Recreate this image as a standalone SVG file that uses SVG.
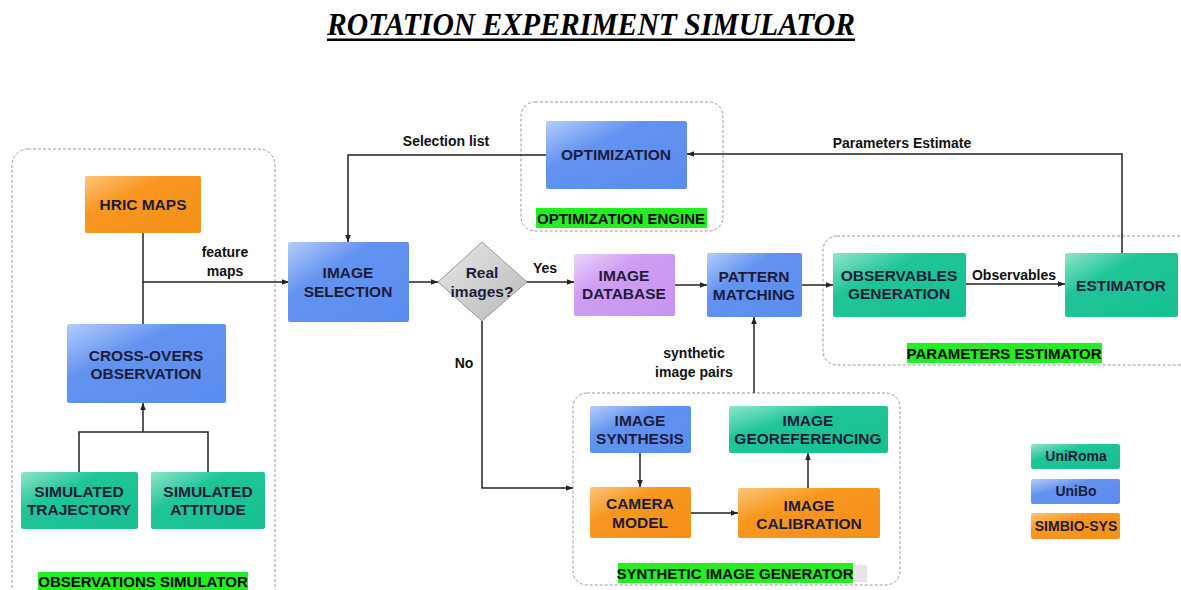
<svg xmlns="http://www.w3.org/2000/svg" width="1181" height="590" viewBox="0 0 1181 590">
<defs>
<linearGradient id="gOrange" x1="0" y1="0" x2="1" y2="1"><stop offset="0" stop-color="#fcc57a"/><stop offset="0.35" stop-color="#f8971f"/><stop offset="1" stop-color="#f58f18"/></linearGradient>
<linearGradient id="gBlue" x1="0" y1="0" x2="1" y2="1"><stop offset="0" stop-color="#b4cdfb"/><stop offset="0.35" stop-color="#6393f0"/><stop offset="1" stop-color="#5a8cf0"/></linearGradient>
<linearGradient id="gTeal" x1="0" y1="0" x2="1" y2="1"><stop offset="0" stop-color="#8fe6cb"/><stop offset="0.35" stop-color="#1fc597"/><stop offset="1" stop-color="#17bf8f"/></linearGradient>
<linearGradient id="gPurple" x1="0" y1="0" x2="1" y2="1"><stop offset="0" stop-color="#ecd5fb"/><stop offset="0.35" stop-color="#cf9ef2"/><stop offset="1" stop-color="#c893ef"/></linearGradient>
<linearGradient id="gGrey" x1="0" y1="0" x2="1" y2="1"><stop offset="0" stop-color="#e8e8e8"/><stop offset="1" stop-color="#b8b8b8"/></linearGradient>
<marker id="arr" viewBox="0 0 10 10" refX="10" refY="5" markerWidth="7" markerHeight="7" orient="auto" markerUnits="userSpaceOnUse"><path d="M0,1 L10,5 L0,9 z" fill="#222"/></marker>
</defs>
<style>
.grp{fill:none;stroke:#999;stroke-width:1;stroke-dasharray:3,2}
.hl{fill:#22ee22}
.node{stroke:none}
.t{font-family:"Liberation Sans",Arial,sans-serif;font-weight:bold;font-size:15.5px;fill:#1c1c3a;text-anchor:middle}
.lbl{font-family:"Liberation Sans",Arial,sans-serif;font-weight:bold;font-size:14px;fill:#111;text-anchor:middle}
.gl{font-family:"Liberation Sans",Arial,sans-serif;font-weight:bold;font-size:15px;fill:#0a0a0a;text-anchor:middle}
.leg{font-family:"Liberation Sans",Arial,sans-serif;font-weight:bold;font-size:14px;fill:#1c1c3a;text-anchor:middle}
.c{fill:none;stroke:#222;stroke-width:1.5}
</style>
<rect width="1181" height="590" fill="#ffffff"/>

<g id="title">
<text x="591" y="35" font-family="'Liberation Serif','Times New Roman',serif" font-weight="bold" font-style="italic" font-size="32" fill="#000" text-anchor="middle" textLength="528" lengthAdjust="spacingAndGlyphs">ROTATION EXPERIMENT SIMULATOR</text>
<rect x="327" y="38.5" width="528" height="2.5" fill="#000"/>
</g>

<g id="group-observations-simulator">
<rect class="grp" x="12" y="149" width="263" height="460" rx="16"/>
<rect class="hl" x="38" y="572" width="210" height="20"/>
<text class="gl" x="143" y="587">OBSERVATIONS SIMULATOR</text>
</g>
<g id="group-optimization-engine">
<rect class="grp" x="521" y="102" width="202" height="129" rx="14"/>
<rect class="hl" x="536" y="208" width="171" height="20"/>
<text class="gl" x="621" y="224">OPTIMIZATION ENGINE</text>
</g>
<g id="group-parameters-estimator">
<rect class="grp" x="823" y="236" width="380" height="129" rx="14"/>
<rect class="hl" x="907" y="343" width="195" height="20"/>
<text class="gl" x="1004" y="359">PARAMETERS ESTIMATOR</text>
</g>
<g id="group-synthetic-image-generator">
<rect class="grp" x="573" y="393" width="327" height="192" rx="14"/>
<rect x="853" y="565" width="14" height="17" fill="#e6e6e6"/>
<rect class="hl" x="618" y="563" width="235" height="20"/>
<text class="gl" x="735" y="579">SYNTHETIC IMAGE GENERATOR</text>
</g>

<g id="connectors">
<path class="c" d="M143,233 V324"/>
<path class="c" d="M143,282 H289" marker-end="url(#arr)"/>
<path class="c" d="M79,472 V432 H208 V472"/>
<path class="c" d="M143,432 V403" marker-end="url(#arr)"/>
<path class="c" d="M546,155 H348 V242" marker-end="url(#arr)"/>
<path class="c" d="M1122,253 V154 H687" marker-end="url(#arr)"/>
<path class="c" d="M409,282 H438" marker-end="url(#arr)"/>
<path class="c" d="M527,282 H574" marker-end="url(#arr)"/>
<path class="c" d="M675,285 H707" marker-end="url(#arr)"/>
<path class="c" d="M802,285 H833" marker-end="url(#arr)"/>
<path class="c" d="M966,284 H1065" marker-end="url(#arr)"/>
<path class="c" d="M482,321 V488 H573" marker-end="url(#arr)"/>
<path class="c" d="M754,393 V317" marker-end="url(#arr)"/>
<path class="c" d="M640,453 V487" marker-end="url(#arr)"/>
<path class="c" d="M691,513 H738" marker-end="url(#arr)"/>
<path class="c" d="M808,488 V453" marker-end="url(#arr)"/>
<text class="lbl" x="225" y="257">feature</text>
<text class="lbl" x="225" y="276">maps</text>
<text class="lbl" x="446" y="146">Selection list</text>
<text class="lbl" x="902" y="148">Parameters Estimate</text>
<text class="lbl" x="545" y="273">Yes</text>
<text class="lbl" x="464" y="368">No</text>
<text class="lbl" x="694" y="358">synthetic</text>
<text class="lbl" x="694" y="377">image pairs</text>
<text class="lbl" x="1014" y="280">Observables</text>
</g>

<g id="hric-maps"><rect class="node" x="85" y="176" width="116" height="57" rx="2" fill="url(#gOrange)"/><text class="t" x="143" y="210">HRIC MAPS</text></g>
<g id="cross-overs-observation"><rect class="node" x="67" y="324" width="159" height="79" rx="2" fill="url(#gBlue)"/><text class="t" x="146" y="361">CROSS-OVERS</text><text class="t" x="146" y="379">OBSERVATION</text></g>
<g id="simulated-trajectory"><rect class="node" x="21" y="472" width="117" height="57" rx="2" fill="url(#gTeal)"/><text class="t" x="79" y="497">SIMULATED</text><text class="t" x="79" y="515">TRAJECTORY</text></g>
<g id="simulated-attitude"><rect class="node" x="151" y="472" width="114" height="57" rx="2" fill="url(#gTeal)"/><text class="t" x="208" y="497">SIMULATED</text><text class="t" x="208" y="515">ATTITUDE</text></g>
<g id="image-selection"><rect class="node" x="288" y="242" width="121" height="80" rx="2" fill="url(#gBlue)"/><text class="t" x="348" y="278">IMAGE</text><text class="t" x="348" y="297">SELECTION</text></g>
<g id="real-images"><polygon points="482,242 527,282 482,321 438,282" fill="url(#gGrey)" stroke="#999" stroke-width="1"/><text class="t" x="482" y="278">Real</text><text class="t" x="482" y="297">images?</text></g>
<g id="image-database"><rect class="node" x="574" y="254" width="101" height="62" rx="2" fill="url(#gPurple)"/><text class="t" x="624" y="281">IMAGE</text><text class="t" x="624" y="299">DATABASE</text></g>
<g id="pattern-matching"><rect class="node" x="707" y="253" width="95" height="64" rx="2" fill="url(#gBlue)"/><text class="t" x="754" y="282">PATTERN</text><text class="t" x="754" y="300">MATCHING</text></g>
<g id="optimization"><rect class="node" x="546" y="121" width="141" height="68" rx="2" fill="url(#gBlue)"/><text class="t" x="616" y="160">OPTIMIZATION</text></g>
<g id="observables-generation"><rect class="node" x="833" y="253" width="133" height="64" rx="2" fill="url(#gTeal)"/><text class="t" x="899" y="281">OBSERVABLES</text><text class="t" x="899" y="299">GENERATION</text></g>
<g id="estimator"><rect class="node" x="1065" y="253" width="113" height="64" rx="2" fill="url(#gTeal)"/><text class="t" x="1121" y="291">ESTIMATOR</text></g>
<g id="image-synthesis"><rect class="node" x="590" y="406" width="101" height="47" rx="2" fill="url(#gBlue)"/><text class="t" x="640" y="426">IMAGE</text><text class="t" x="640" y="444">SYNTHESIS</text></g>
<g id="image-georeferencing"><rect class="node" x="729" y="406" width="159" height="47" rx="2" fill="url(#gTeal)"/><text class="t" x="808" y="426">IMAGE</text><text class="t" x="808" y="444">GEOREFERENCING</text></g>
<g id="camera-model"><rect class="node" x="590" y="487" width="101" height="51" rx="2" fill="url(#gOrange)"/><text class="t" x="640" y="509">CAMERA</text><text class="t" x="640" y="528">MODEL</text></g>
<g id="image-calibration"><rect class="node" x="738" y="488" width="142" height="50" rx="2" fill="url(#gOrange)"/><text class="t" x="809" y="511">IMAGE</text><text class="t" x="809" y="529">CALIBRATION</text></g>

<g id="legend">
<g id="legend-uniroma"><rect x="1031" y="444" width="89" height="25" rx="2" fill="url(#gTeal)"/><text class="leg" x="1076" y="461">UniRoma</text></g>
<g id="legend-unibo"><rect x="1031" y="479" width="89" height="25" rx="2" fill="url(#gBlue)"/><text class="leg" x="1076" y="496">UniBo</text></g>
<g id="legend-simbio-sys"><rect x="1031" y="513" width="89" height="26" rx="2" fill="url(#gOrange)"/><text class="leg" x="1076" y="531">SIMBIO-SYS</text></g>
</g>
</svg>
